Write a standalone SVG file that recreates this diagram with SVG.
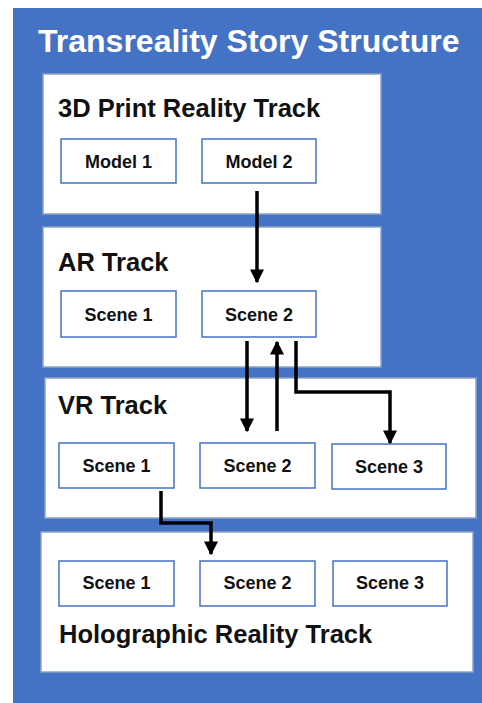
<svg xmlns="http://www.w3.org/2000/svg" width="482" height="703" viewBox="0 0 482 703">
<defs>
<style>
.bg{fill:#4472C4}
.track{fill:#fff;stroke:#8FA3C4;stroke-width:1.5}
.item{fill:#fff;stroke:#4472C4;stroke-width:1.5}
.title{font-family:"Liberation Sans",Arial,sans-serif;font-weight:bold;font-size:32px;fill:#fff}
.tlabel{font-family:"Liberation Sans",Arial,sans-serif;font-weight:bold;font-size:25.5px;fill:#111}
.ilabel{font-family:"Liberation Sans",Arial,sans-serif;font-weight:bold;font-size:18px;fill:#111;text-anchor:middle}
.conn{fill:none;stroke:#000;stroke-width:3.5}
</style>
<marker id="arr" viewBox="0 0 10 10" refX="9" refY="5" markerWidth="4" markerHeight="4" orient="auto" markerUnits="strokeWidth">
<path d="M0,0 L10,5 L0,10 Z" fill="#000"/>
</marker>
</defs>
<rect class="bg" x="13" y="8" width="469" height="695"/>
<text class="title" x="38" y="52">Transreality Story Structure</text>

<g id="track-3d">
<rect class="track" x="43" y="74" width="338" height="140"/>
<text class="tlabel" x="58" y="117">3D Print Reality Track</text>
</g>
<g id="model1"><rect class="item" x="61" y="139" width="115" height="44"/><text class="ilabel" x="118.5" y="168">Model 1</text></g>
<g id="model2"><rect class="item" x="202" y="139" width="114" height="44"/><text class="ilabel" x="259" y="168">Model 2</text></g>

<g id="track-ar">
<rect class="track" x="43" y="227" width="338" height="140"/>
<text class="tlabel" x="58" y="271">AR Track</text>
</g>
<g id="ar-scene1"><rect class="item" x="61" y="291" width="115" height="46"/><text class="ilabel" x="118.5" y="321">Scene 1</text></g>
<g id="ar-scene2"><rect class="item" x="202" y="291" width="114" height="46"/><text class="ilabel" x="259" y="321">Scene 2</text></g>

<g id="track-vr">
<rect class="track" x="45" y="378" width="431" height="140"/>
<text class="tlabel" x="58" y="414">VR Track</text>
</g>
<g id="vr-scene1"><rect class="item" x="59" y="443" width="115" height="45"/><text class="ilabel" x="116.5" y="472">Scene 1</text></g>
<g id="vr-scene2"><rect class="item" x="200" y="443" width="115" height="45"/><text class="ilabel" x="257.5" y="472">Scene 2</text></g>
<g id="vr-scene3"><rect class="item" x="332" y="444" width="114" height="45"/><text class="ilabel" x="389" y="473">Scene 3</text></g>

<g id="track-holo">
<rect class="track" x="41" y="532" width="432" height="140"/>
<text class="tlabel" x="59" y="643">Holographic Reality Track</text>
</g>
<g id="holo-scene1"><rect class="item" x="59" y="561" width="115" height="45"/><text class="ilabel" x="116.5" y="589">Scene 1</text></g>
<g id="holo-scene2"><rect class="item" x="200" y="561" width="115" height="45"/><text class="ilabel" x="257.5" y="589">Scene 2</text></g>
<g id="holo-scene3"><rect class="item" x="333" y="561" width="114" height="45"/><text class="ilabel" x="390" y="589">Scene 3</text></g>

<g id="connectors">
<path class="conn" d="M257,191 V282" marker-end="url(#arr)"/>
<path class="conn" d="M247,341 V431" marker-end="url(#arr)"/>
<path class="conn" d="M277,431 V342" marker-end="url(#arr)"/>
<path class="conn" d="M296,341 V392 H390 V443" marker-end="url(#arr)"/>
<path class="conn" d="M161,491 V523 H211 V554" marker-end="url(#arr)"/>
</g>
</svg>
